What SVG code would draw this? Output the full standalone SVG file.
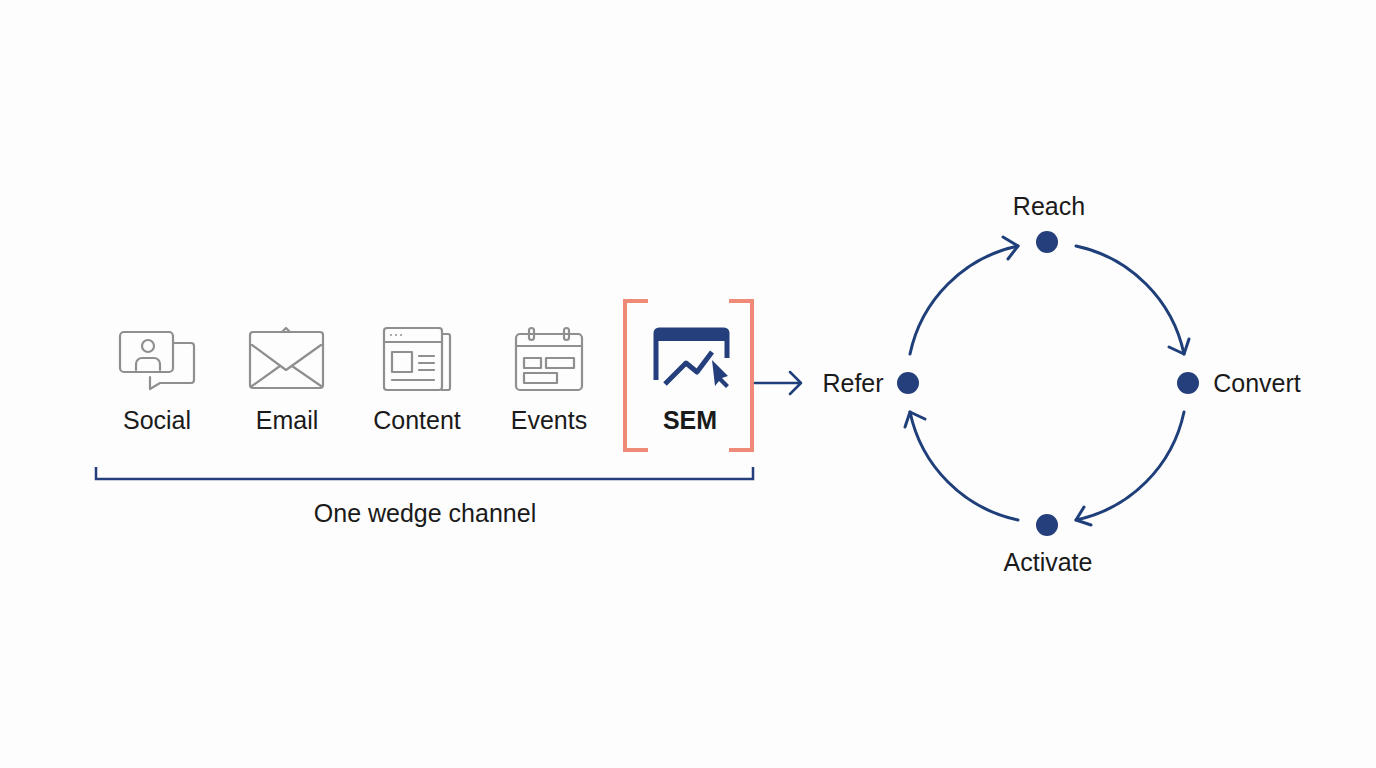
<svg xmlns="http://www.w3.org/2000/svg" width="1376" height="768" viewBox="0 0 1376 768">
<style>
.t{font-family:"Liberation Sans",Arial,sans-serif;font-size:25px;fill:#1a1a1a;text-anchor:middle}
.ic{fill:none;stroke:#8f8f8f;stroke-width:2.2;stroke-linejoin:round;stroke-linecap:round}
.c{fill:none;stroke:#1f3f7a;stroke-width:3;stroke-linecap:round}
.dot{fill:#243f7c}
</style>
<defs>
<marker id="a" markerWidth="12" markerHeight="12" refX="10" refY="6" orient="auto" markerUnits="userSpaceOnUse" viewBox="0 0 12 12" overflow="visible">
<path d="M-4,-4 L10,6 L-4,16" transform="translate(0,0)" fill="none" stroke="#1f3f7a" stroke-width="3" stroke-linecap="round" stroke-linejoin="round"/>
</marker>
</defs>
<rect width="1376" height="768" fill="#fdfdfd"/>
<g id="social">
<rect x="120" y="332" width="53" height="40" rx="4" class="ic"/>
<path d="M173,343 H191 a3,3 0 0 1 3,3 V380 a3,3 0 0 1 -3,3 H160 L150,389 V377" class="ic"/>
<circle cx="148" cy="346" r="6" class="ic"/>
<path d="M136,370 V364 a6,6 0 0 1 6,-6 H154 a6,6 0 0 1 6,6 V370" class="ic"/>
<text x="157" y="429" class="t">Social</text>
</g>
<g id="email">
<rect x="250" y="332" width="73" height="56" rx="3" class="ic"/>
<path d="M252,345 L286,370 L321,345 M252,386 L280,366 M321,386 L292,366 M282,332 L286,328 L290,332" class="ic"/>
<text x="287" y="429" class="t">Email</text>
</g>
<g id="content">
<rect x="384" y="328" width="58" height="62" rx="3" class="ic"/>
<path d="M442,334 H448 a2,2 0 0 1 2,2 V388 a2,2 0 0 1 -2,2 H442 M384,342 H442 M392,380 H434 M419,356 H434 M419,363 H434 M419,370 H434" class="ic"/>
<rect x="392" y="352" width="20" height="20" class="ic"/>
<circle cx="391" cy="335" r="1" fill="#8f8f8f"/><circle cx="396" cy="335" r="1" fill="#8f8f8f"/><circle cx="401" cy="335" r="1" fill="#8f8f8f"/>
<text x="417" y="429" class="t">Content</text>
</g>
<g id="events">
<rect x="516" y="334" width="66" height="56" rx="4" class="ic"/>
<path d="M516,346 H582" class="ic"/>
<rect x="529" y="328" width="5" height="12" rx="2.5" class="ic" fill="#fdfdfd"/>
<rect x="564" y="328" width="5" height="12" rx="2.5" class="ic" fill="#fdfdfd"/>
<rect x="524" y="358" width="17" height="10" class="ic"/>
<rect x="546" y="358" width="28" height="10" class="ic"/>
<rect x="524" y="373" width="33" height="10" class="ic"/>
<text x="549" y="429" class="t">Events</text>
</g>
<g id="sem">
<path d="M648,301 H625 V450 H648 M729,301 H752 V450 H729" fill="none" stroke="#f08a78" stroke-width="4"/>
<path d="M656,380 V333 a3,3 0 0 1 3,-3 H724 a3,3 0 0 1 3,3 V358" fill="none" stroke="#243f7c" stroke-width="5"/>
<rect x="656" y="330" width="71" height="11" fill="#243f7c"/>
<path d="M665,384 L686,363 L697,372 L712,352" fill="none" stroke="#243f7c" stroke-width="5" stroke-linejoin="round"/>
<path d="M712,360 L728,376 L722,378 L729,385 L726,388 L719,381 L715,386 Z" fill="#243f7c"/>
<text x="690" y="429" class="t" font-weight="bold">SEM</text>
</g>
<g id="wedge">
<path d="M96,467 V479 H753 V467" fill="none" stroke="#243f7c" stroke-width="2.5"/>
<text x="425" y="522" class="t">One wedge channel</text>
</g>
<g id="reach"><circle cx="1047" cy="242" r="11" class="dot"/><text x="1049" y="215" class="t">Reach</text></g>
<g id="convert"><circle cx="1188" cy="383" r="11" class="dot"/><text x="1257" y="392" class="t">Convert</text></g>
<g id="activate"><circle cx="1047" cy="525" r="11" class="dot"/><text x="1048" y="571" class="t">Activate</text></g>
<g id="refer"><circle cx="908" cy="383" r="11" class="dot"/><text x="853" y="392" class="t">Refer</text></g>
<g id="connectors">
<path d="M755,383 H800 M790,372 L801,383 L790,394" fill="none" stroke="#1f3f7a" stroke-width="2.5" stroke-linecap="round" stroke-linejoin="round"/>
<path d="M910,354 A140,140 0 0 1 1018,246" class="c"/>
<path d="M1076,246 A140,140 0 0 1 1184,354" class="c"/>
<path d="M1184,412 A140,140 0 0 1 1076,520" class="c"/>
<path d="M1018,520 A140,140 0 0 1 910,412" class="c"/>
<path d="M1003,237 L1018,246 L1008,259" class="c" stroke-linejoin="round"/>
<path d="M1189,339 L1184,354 L1169,347" class="c" stroke-linejoin="round"/>
<path d="M1091,525 L1076,520 L1084,507" class="c" stroke-linejoin="round"/>
<path d="M905,427 L910,412 L925,419" class="c" stroke-linejoin="round"/>
</g>
</svg>
